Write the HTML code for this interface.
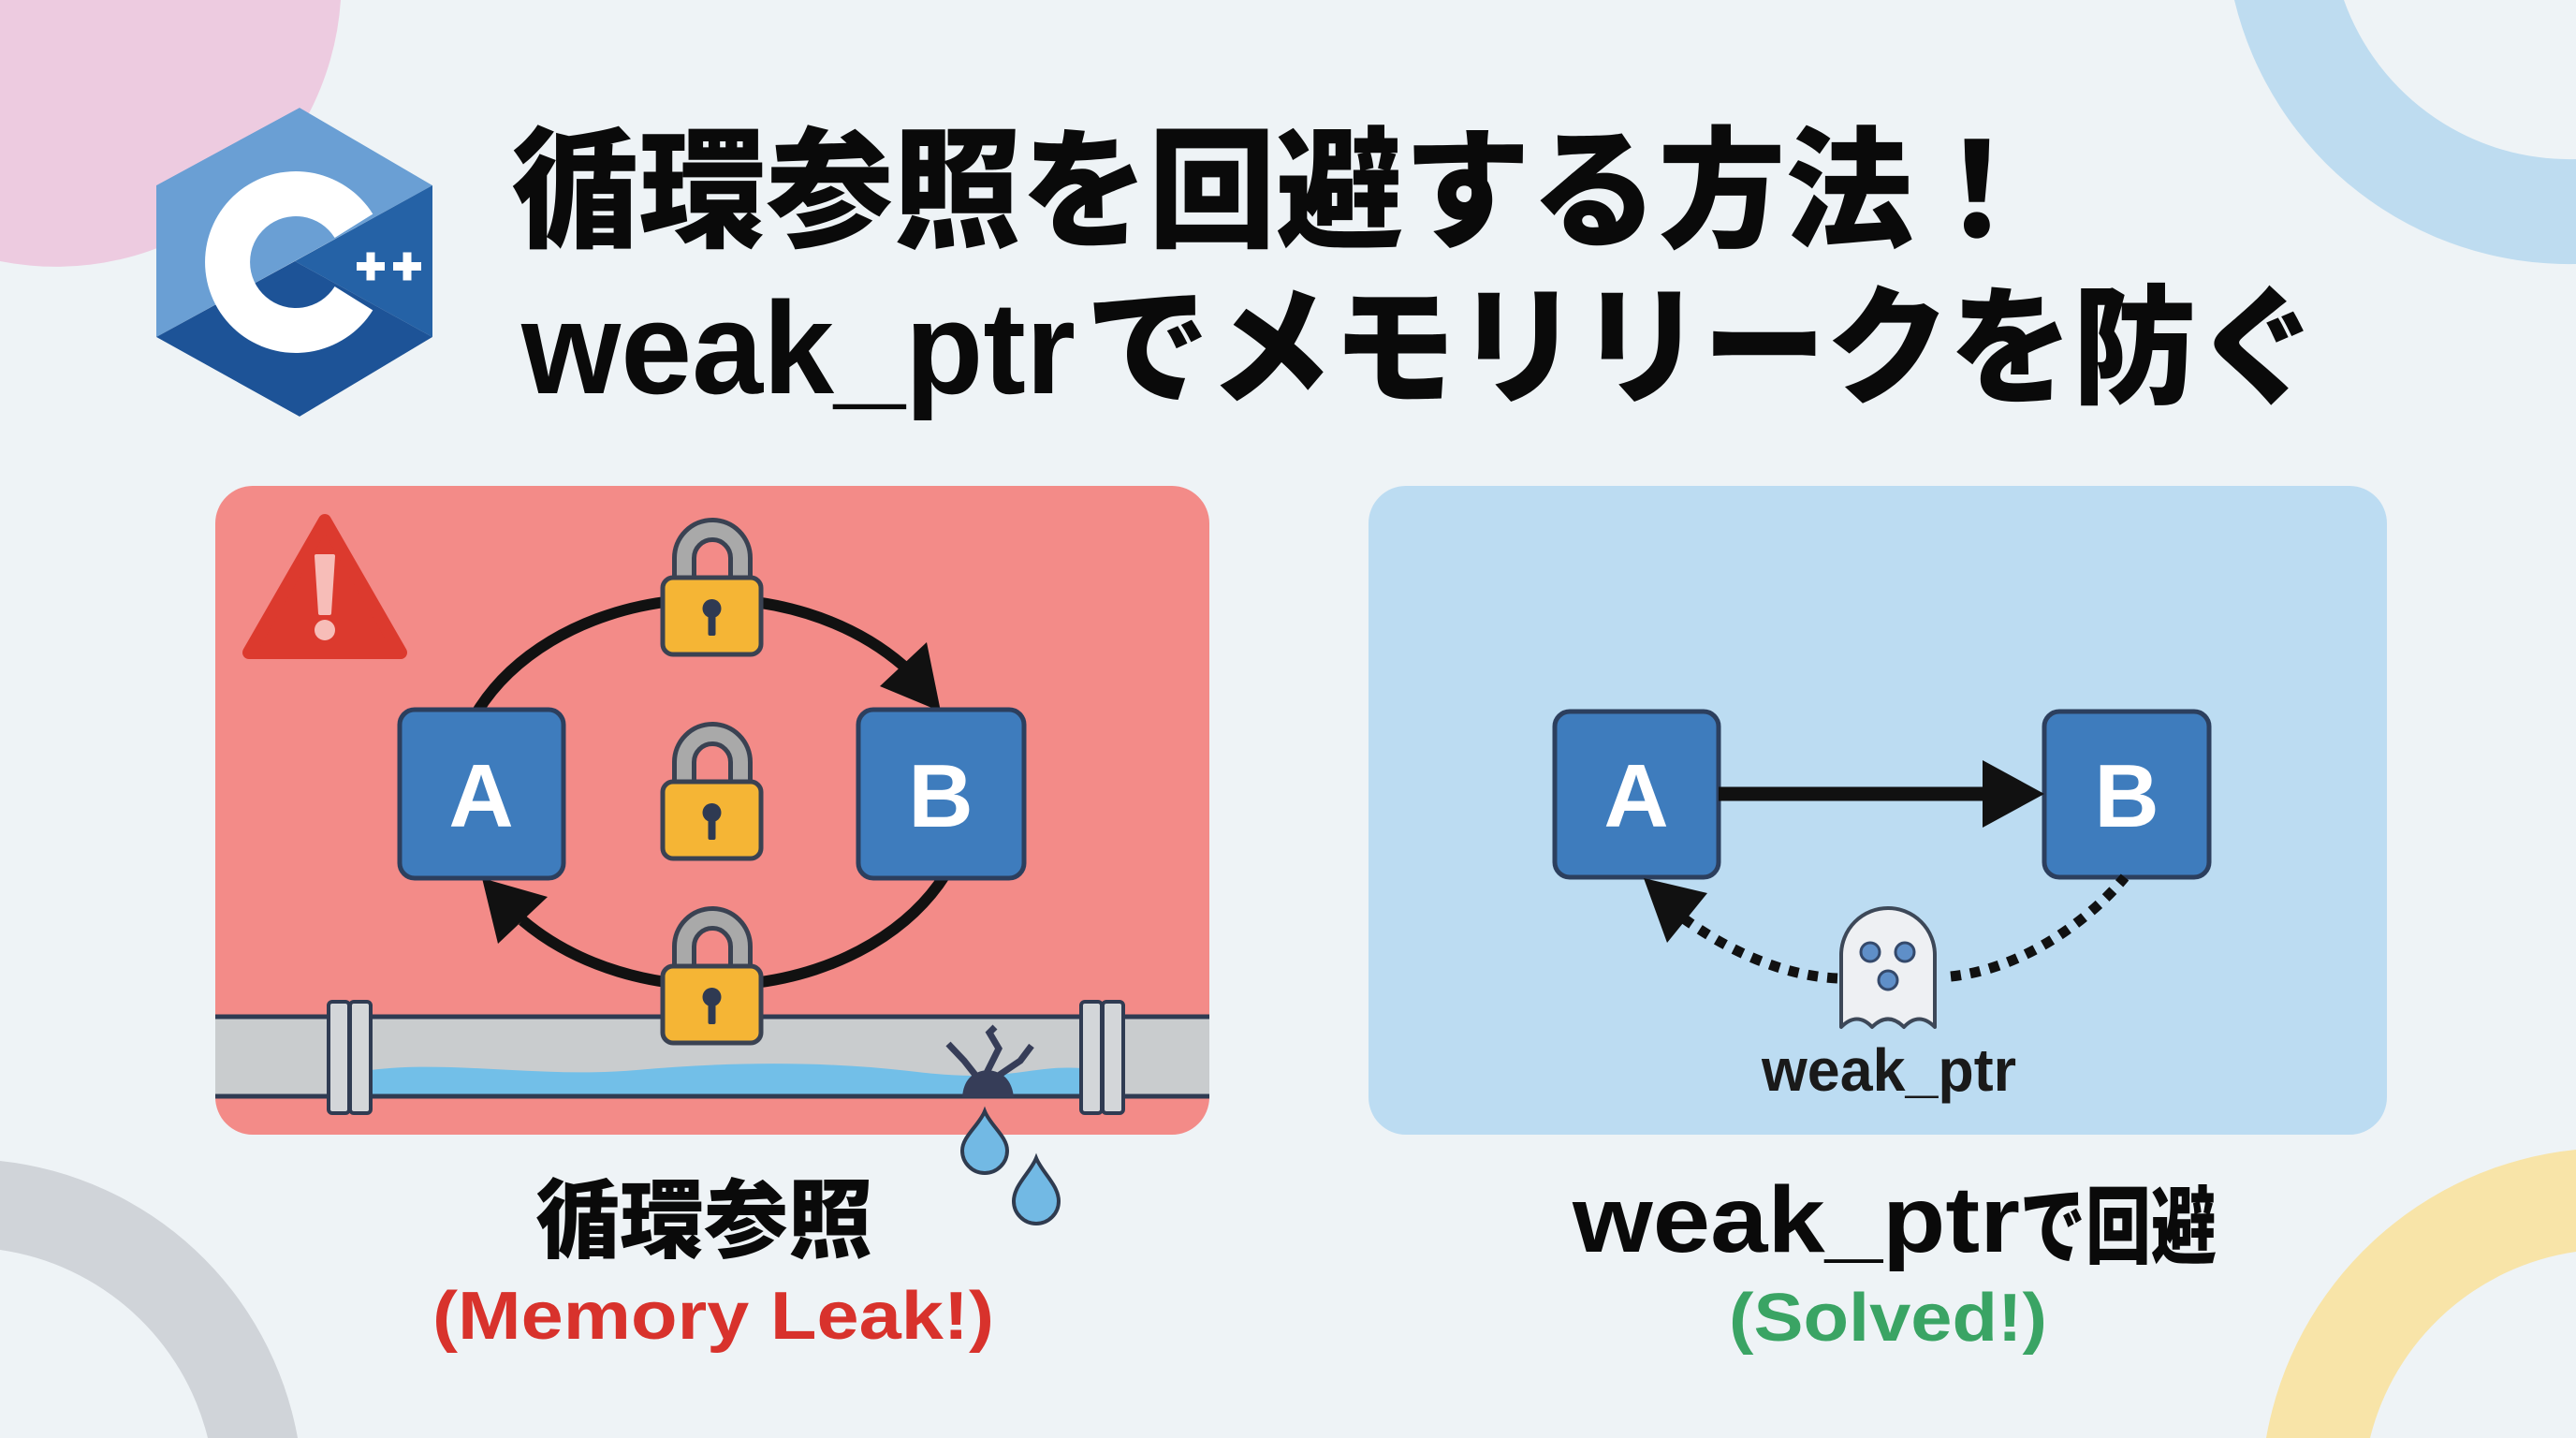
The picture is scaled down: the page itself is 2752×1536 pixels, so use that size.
<!DOCTYPE html>
<html><head><meta charset="utf-8">
<style>html,body{margin:0;padding:0;background:#eef3f6;width:2752px;height:1536px;overflow:hidden}svg{display:block;overflow:hidden}</style>
</head><body>
<svg xmlns="http://www.w3.org/2000/svg" width="2752" height="1536" viewBox="0 0 2752 1536" font-family="'Liberation Sans','Noto Sans CJK JP',sans-serif" font-weight="700">
<defs>
  <clipPath id="hex"><polygon points="320,115 462,198 462,360 320,445 167,360 167,198"/></clipPath>
  <clipPath id="red"><rect x="230" y="519" width="1062" height="693" rx="40"/></clipPath>
  <g id="lock">
    <path d="M23 8 L23 -21 A30 30 0 0 1 83 -21 L83 8" fill="none" stroke="#3a4252" stroke-width="26"/>
    <path d="M23 8 L23 -21 A30 30 0 0 1 83 -21 L83 8" fill="none" stroke="#a9a9a9" stroke-width="16"/>
    <rect x="0" y="0" width="105" height="82" rx="11" fill="#f5b535" stroke="#3a4252" stroke-width="5"/>
    <circle cx="52.5" cy="33" r="10" fill="#2f3a52"/>
    <rect x="48.5" y="36" width="8" height="26" rx="2" fill="#2f3a52"/>
  </g>
</defs>

<!-- background -->
<rect width="2752" height="1536" fill="#eef3f6"/>
<path d="M0 0 L364 0 A305 305 0 0 1 0 279 Z" fill="#edcbe0"/>
<path d="M2387 0 A368 368 0 0 0 2752 282 L2752 170 A256 256 0 0 1 2504 0 Z" fill="#bedcf0"/>
<path d="M0 1240 A362 362 0 0 1 318 1536 L222 1536 A268 268 0 0 0 0 1335 Z" fill="#d0d4d9"/>
<path d="M2421 1536 A374 374 0 0 1 2752 1228 L2752 1337 A266 266 0 0 0 2532 1536 Z" fill="#f8e4a8"/>

<!-- C++ logo -->
<g clip-path="url(#hex)">
  <polygon points="320,115 462,198 167,360 167,198" fill="#6a9fd4"/>
  <polygon points="462,198 462,360 315,279" fill="#2562a6"/>
  <polygon points="315,279 462,360 320,445 167,360" fill="#1d5397"/>
</g>
<path d="M398.3 228.6 A97 97 0 1 0 398.3 331.4 L357.6 306 A49 49 0 1 1 357.6 254 Z" fill="#ffffff"/>
<rect x="381" y="280" width="30" height="9" fill="#fff"/>
<rect x="391.5" y="269.5" width="9" height="30" fill="#fff"/>
<rect x="420" y="280" width="30" height="9" fill="#fff"/>
<rect x="430.5" y="269.5" width="9" height="30" fill="#fff"/>

<!-- Title -->
<text x="546" y="253" font-size="140" font-weight="900" fill="#0a0a0a" textLength="1634" lengthAdjust="spacingAndGlyphs">循環参照を回避する方法！</text>
<text x="557" y="420" font-size="140" fill="#0a0a0a" textLength="592" lengthAdjust="spacingAndGlyphs">weak_ptr</text>
<text x="1160" y="420" font-size="138" font-weight="900" fill="#0a0a0a" textLength="1318" lengthAdjust="spacingAndGlyphs">でメモリリークを防ぐ</text>

<!-- Red panel -->
<rect x="230" y="519" width="1062" height="693" rx="40" fill="#f38b88"/>
<!-- warning -->
<polygon points="347,556 428,697 266,697" fill="#dc3a2e" stroke="#dc3a2e" stroke-width="14" stroke-linejoin="round"/>
<path d="M338 594 L356 594 L352 655 L342 655 Z" fill="#f7bdb8" stroke="#f7bdb8" stroke-width="4" stroke-linejoin="round"/>
<circle cx="347" cy="673" r="11" fill="#f7bdb8"/>

<!-- pipe -->
<g clip-path="url(#red)">
  <rect x="230" y="1086" width="1062" height="86" fill="#c9ccce"/>
  <path d="M396 1143 C480 1132 580 1152 680 1143 S880 1133 980 1145 S1100 1137 1155 1141 L1155 1170 L396 1170 Z" fill="#72bfe8"/>
  <line x1="230" y1="1086" x2="1292" y2="1086" stroke="#2f3b52" stroke-width="5"/>
  <line x1="230" y1="1171" x2="1292" y2="1171" stroke="#2f3b52" stroke-width="5"/>
</g>
<rect x="351" y="1070" width="22" height="119" rx="4" fill="#d3d6d9" stroke="#2f3b52" stroke-width="4"/>
<rect x="374" y="1070" width="22" height="119" rx="4" fill="#d3d6d9" stroke="#2f3b52" stroke-width="4"/>
<rect x="1155" y="1070" width="22" height="119" rx="4" fill="#d3d6d9" stroke="#2f3b52" stroke-width="4"/>
<rect x="1178" y="1070" width="22" height="119" rx="4" fill="#d3d6d9" stroke="#2f3b52" stroke-width="4"/>
<!-- crack -->
<path d="M1028 1172 Q1030 1145 1055 1143 Q1080 1145 1083 1172 Z" fill="#363d58"/>
<polyline points="1045,1152 1030,1133 1013,1115" fill="none" stroke="#363d58" stroke-width="7"/>
<polyline points="1053,1148 1067,1120 1057,1103 1063,1097" fill="none" stroke="#363d58" stroke-width="7"/>
<polyline points="1065,1150 1090,1133 1102,1117" fill="none" stroke="#363d58" stroke-width="7"/>
<!-- drips -->
<path d="M1052 1187 C1058 1202 1076 1214 1076 1229 A24 24 0 0 1 1028 1229 C1028 1214 1046 1202 1052 1187 Z" fill="#72b9e4" stroke="#2f3b4f" stroke-width="4"/>
<path d="M1107 1237 C1113 1252 1131 1266 1131 1283 A24 24 0 0 1 1083 1283 C1083 1266 1101 1252 1107 1237 Z" fill="#72b9e4" stroke="#2f3b4f" stroke-width="4"/>

<!-- cycle arrows -->
<path d="M510 760 A275 210 0 0 1 965 711" fill="none" stroke="#111" stroke-width="12"/>
<polygon points="1005,760 940,733 990,686" fill="#111"/>
<path d="M1010 934 A275 210 0 0 1 558 983" fill="none" stroke="#111" stroke-width="12"/>
<polygon points="515,938 532,1008 585,958" fill="#111"/>

<!-- boxes A/B red -->
<rect x="427" y="758" width="175" height="180" rx="16" fill="#3e7cbd" stroke="#2c3f5e" stroke-width="5"/>
<rect x="917" y="758" width="177" height="180" rx="16" fill="#3e7cbd" stroke="#2c3f5e" stroke-width="5"/>
<text x="514" y="883" font-size="96" fill="#fff" text-anchor="middle">A</text>
<text x="1005" y="883" font-size="96" fill="#fff" text-anchor="middle">B</text>

<!-- locks -->
<use href="#lock" x="708" y="617"/>
<use href="#lock" x="708" y="835"/>
<use href="#lock" x="708" y="1032"/>

<!-- labels left -->
<text x="752" y="1336" font-size="92" font-weight="900" fill="#0a0a0a" text-anchor="middle" textLength="360" lengthAdjust="spacingAndGlyphs">循環参照</text>
<text x="762" y="1430" font-size="72" fill="#d8322c" text-anchor="middle" textLength="600" lengthAdjust="spacingAndGlyphs">(Memory Leak!)</text>

<!-- Blue panel -->
<rect x="1462" y="519" width="1088" height="693" rx="40" fill="#bcdcf2"/>
<rect x="1661" y="760" width="175" height="177" rx="16" fill="#3e7cbd" stroke="#2c3f5e" stroke-width="5"/>
<rect x="2184" y="760" width="176" height="177" rx="16" fill="#3e7cbd" stroke="#2c3f5e" stroke-width="5"/>
<text x="1748" y="883" font-size="96" fill="#fff" text-anchor="middle">A</text>
<text x="2272" y="883" font-size="96" fill="#fff" text-anchor="middle">B</text>
<line x1="1836" y1="848" x2="2125" y2="848" stroke="#111" stroke-width="15"/>
<polygon points="2118,812 2184,848 2118,884" fill="#111"/>

<!-- dotted weak arrows -->
<path d="M1963 1045 C1900 1042 1842 1012 1800 982" fill="none" stroke="#111" stroke-width="11" stroke-dasharray="11 10"/>
<polygon points="1756,938 1824,954 1781,1007" fill="#111"/>
<path d="M2084 1043 C2160 1035 2230 985 2270 937" fill="none" stroke="#111" stroke-width="11" stroke-dasharray="11 10"/>

<!-- ghost -->
<path d="M1967 1097 L1967 1020 A50 50 0 0 1 2067 1020 L2067 1097 Q2050 1080 2034 1097 Q2017 1080 2000 1097 Q1984 1080 1967 1097 Z" fill="#eef0f3" stroke="#3d4858" stroke-width="4" stroke-linejoin="round"/>
<circle cx="1998" cy="1017" r="10" fill="#5f8fc8" stroke="#34496b" stroke-width="3"/>
<circle cx="2035" cy="1017" r="10" fill="#5f8fc8" stroke="#34496b" stroke-width="3"/>
<circle cx="2017" cy="1047" r="10" fill="#5f8fc8" stroke="#34496b" stroke-width="3"/>
<text x="1882" y="1165" font-size="64" fill="#1a1a1a" textLength="272" lengthAdjust="spacingAndGlyphs">weak_ptr</text>

<!-- labels right -->
<text x="1680" y="1337" font-size="100" fill="#0a0a0a" textLength="478" lengthAdjust="spacingAndGlyphs">weak_ptr</text>
<text x="2158" y="1342" font-size="90" font-weight="900" fill="#0a0a0a" textLength="210" lengthAdjust="spacingAndGlyphs">で回避</text>
<text x="2017" y="1432" font-size="72" fill="#3aa464" text-anchor="middle" textLength="340" lengthAdjust="spacingAndGlyphs">(Solved!)</text>
</svg>
</body></html>
